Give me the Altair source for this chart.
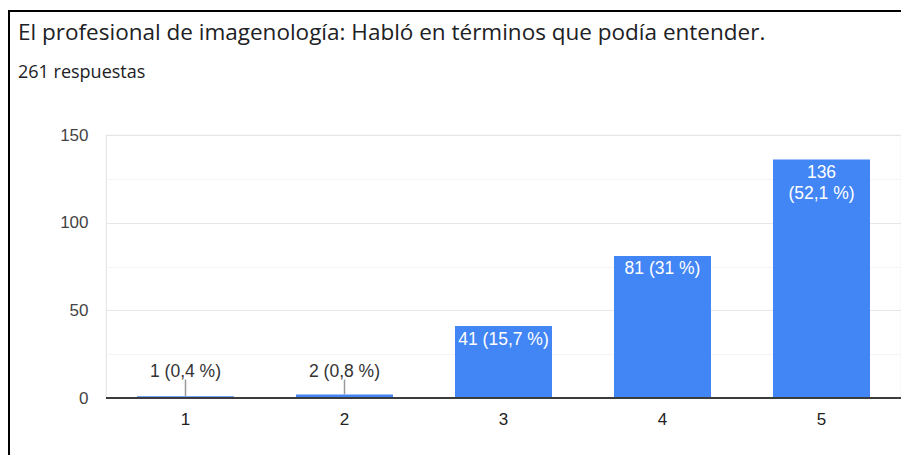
import altair as alt
import pandas as pd

# ---- data ----
categories = ["1", "2", "3", "4", "5"]
counts = [1, 2, 41, 81, 136]
percents = ["0,4", "0,8", "15,7", "31", "52,1"]
y_ticks = [0, 25, 50, 75, 100, 125, 150]
title_text = "El profesional de imagenología: Habló en términos que podía entender."
subtitle_text = "261 respuestas"

labels = []
for c, p in zip(counts, percents):
    t = f"{c} ({p} %)"
    if len(t) > 11:
        t = f"{c}\n({p} %)"
    labels.append(t)
inside = [c > 20 for c in counts]

df = pd.DataFrame({"cat": categories, "count": counts, "label": labels, "inside": inside})

# ---- layout ----
W, H = 795, 263
PAD_L, PAD_T = 98, 127
PAD_B = 447 - PAD_T - H
FONT = "Liberation Sans"

x_enc = alt.X(
    "cat:N", sort=categories,
    scale=alt.Scale(paddingInner=0.39, paddingOuter=0.195),
    axis=alt.Axis(title=None, labelAngle=0, ticks=False, tickSize=0, domain=False, grid=False,
                  labelPadding=13, labelFontSize=17, labelColor="#222222", labelFont=FONT,
                  labelBaseline="top"),
)
y_scale = alt.Scale(domain=[0, 150], nice=False)
y_axis = alt.Axis(
    title=None, values=y_ticks,
    labelExpr="datum.value % 50 === 0 ? datum.label : ''",
    grid=True,
    gridColor={"condition": {"test": "datum.value % 50 === 0", "value": "#e6e6e6"}, "value": "#f4f4f4"},
    gridWidth=1.2,
    ticks=False, tickSize=0, domain=False, labelPadding=18,
    labelFontSize=17, labelColor="#444444", labelFont=FONT,
)
y_enc = alt.Y("count:Q", scale=y_scale, axis=y_axis)

base = alt.Chart(df)

bars = base.mark_bar(color="#4285f4").encode(x=x_enc, y=y_enc)

baseline = base.mark_rule(color="#3c3c3c", strokeWidth=1.6).encode(y=alt.datum(0))

in_labels = base.transform_filter("datum.inside").mark_text(
    baseline="top", dy=4.5, color="white", fontSize=17.5, font=FONT, lineBreak="\n", lineHeight=21
).encode(x=x_enc, y=y_enc, text="label:N")

out_labels = base.transform_filter("!datum.inside").mark_text(
    baseline="alphabetic", dy=-21, color="#333333", fontSize=17.5, font=FONT
).encode(x=x_enc, y=alt.datum(0), text="label:N")

leaders = base.transform_filter("!datum.inside").mark_rule(
    color="#999999", strokeWidth=1.5
).encode(x=x_enc, y=y_enc, y2=alt.datum(10.5))

frame_df = pd.DataFrame({"k": [0]})
frame_left = alt.Chart(frame_df).mark_rule(color="black", strokeWidth=2).encode(
    x=alt.value(9 - 106), y=alt.value(10 - 135), y2=alt.value(H + PAD_B)
)
frame_top = alt.Chart(frame_df).mark_rule(color="black", strokeWidth=2).encode(
    x=alt.value(8 - 106), x2=alt.value(909 - 106), y=alt.value(11 - 135)
)

title_df = pd.DataFrame({"t": [title_text]})
title = alt.Chart(title_df).mark_text(
    align="left", baseline="alphabetic", font="Open Sans", fontSize=22.5, color="#202124"
).encode(x=alt.value(18 - 106), y=alt.value(39.5 - 135), text="t:N")

sub_df = pd.DataFrame({"t": [subtitle_text]})
subtitle = alt.Chart(sub_df).mark_text(
    align="left", baseline="alphabetic", font="Open Sans", fontSize=18, color="#202124"
).encode(x=alt.value(18 - 106), y=alt.value(78 - 135), text="t:N")

chart = alt.layer(
    bars, baseline, in_labels, leaders, out_labels, frame_left, frame_top, title, subtitle
).properties(
    width=W, height=H,
    padding={"left": PAD_L, "top": PAD_T, "right": 0, "bottom": PAD_B},
    autosize=alt.AutoSizeParams(type="none"),
    background="white",
).configure_view(stroke="#e6e6e6", strokeWidth=1.2)

chart.save("out.html", embed_options={"renderer": "svg", "actions": False})
